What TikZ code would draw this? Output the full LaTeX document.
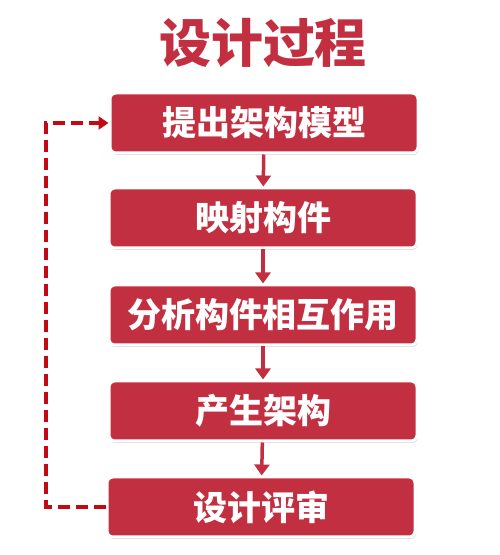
\documentclass[tikz,border=0pt]{standalone}
\usepackage{fontspec}
\newfontfamily\cjk{Noto Sans CJK SC}
\usetikzlibrary{arrows.meta,shadows}
\definecolor{boxred}{HTML}{C22F40}
\definecolor{loopred}{HTML}{C00A14}
\tikzset{
  stepbox/.style={draw=white,line width=3pt,fill=boxred,rounded corners=6pt,
    minimum width=308pt,minimum height=60pt,text=white,
    font=\cjk\bfseries\fontsize{34pt}{36pt}\selectfont,
    drop shadow={shadow xshift=1pt,shadow yshift=-2pt,opacity=0.35}},
  flow/.style={boxred,line width=3.5pt,-{Triangle[width=15pt,length=11pt]}},
  back/.style={loopred,line width=3.5pt,dash pattern=on 12pt off 6pt,
    -{Triangle[width=13pt,length=10pt]}}
}
\begin{document}
\begin{tikzpicture}[x=1pt,y=1pt]
  \useasboundingbox (0,0) rectangle (500,555);

  % Title
  \node[text=boxred,font=\cjk\bfseries\fontsize{52pt}{54pt}\selectfont] (title) at (263,512) {设计过程};

  % Steps
  \node[stepbox] (propose) at (264,432) {提出架构模型};
  \node[stepbox] (map) at (263,337) {映射构件};
  \node[stepbox] (analyse) at (263,240) {分析构件相互作用};
  \node[stepbox] (produce) at (263,144) {产生架构};
  \node[stepbox] (review) at (261,48) {设计评审};

  % Flow
  \draw[flow] (propose) -- (map);
  \draw[flow] (map) -- (analyse);
  \draw[flow] (analyse) -- (produce);
  \draw[flow] (produce) -- (review);

  % Feedback loop
  \coordinate (low) at (46,48);
  \coordinate (high) at (46,432);
  \draw[back] (review.west) -- (low) -- (high) -- (propose.west);
\end{tikzpicture}
\end{document}
